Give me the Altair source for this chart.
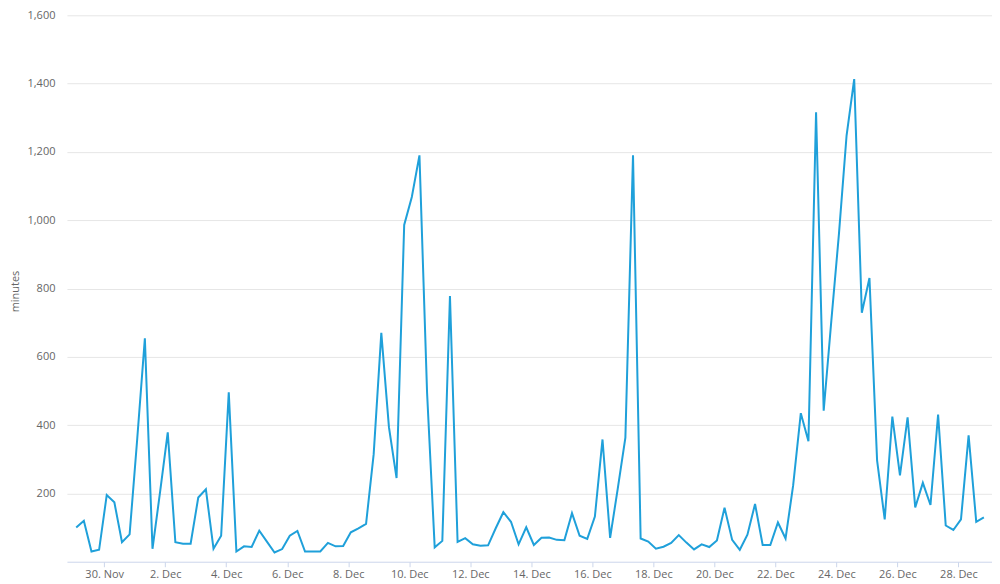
import altair as alt
import pandas as pd

start_time = "2013-11-29 02:00"
step = "6h"

minutes = [
    100, 120, 30, 35, 195, 174, 57, 80, 360, 654,
    38, 205, 379, 57, 53, 53, 188, 212, 38, 76,
    496, 30, 45, 43, 91, 59, 27, 37, 76, 90,
    30, 30, 30, 55, 45, 46, 86, 98, 111, 315,
    670, 394, 245, 986, 1068, 1190, 495, 42, 61, 778,
    58, 69, 51, 47, 48, 98, 145, 117, 51, 101,
    49, 70, 71, 64, 63, 142, 76, 67, 132, 358,
    70, 214, 363, 1190, 68, 59, 38, 44, 55, 78,
    56, 36, 51, 43, 62, 158, 64, 35, 79, 169,
    49, 49, 115, 68, 224, 435, 353, 1316, 442, 705,
    960, 1248, 1413, 729, 831, 297, 124, 425, 253, 423,
    159, 231, 166, 431, 106, 93, 124, 370, 117, 130,
]

tick_days = [(2013, 11, 30)] + [(2013, 12, d) for d in range(2, 29, 2)]
y_ticks = [200, 400, 600, 800, 1000, 1200, 1400, 1600]

times = pd.date_range(start_time, periods=len(minutes), freq=step)
df = pd.DataFrame({"time": times.strftime("%Y-%m-%dT%H:%M:%S"), "minutes": minutes})

tick_values = [alt.DateTime(year=y, month=m, date=d) for (y, m, d) in tick_days]

FONT = "Open Sans"
LABEL = "#666666"

chart = alt.Chart(df).mark_line(color="#1fa0da", strokeWidth=2, interpolate="linear").encode(
    x=alt.X(
        "time:T",
        title=None,
        scale=alt.Scale(domain=[
            alt.DateTime(year=2013, month=11, date=28, hours=18, minutes=42),
            alt.DateTime(year=2013, month=12, date=29, hours=2, minutes=24),
        ]),
        axis=alt.Axis(
            values=tick_values,
            format="%-d. %b",
            grid=False,
            domainColor="#ccd6eb",
            tickColor="#ccd6eb",
            tickSize=5,
            labelPadding=2,
            labelFont=FONT,
            labelFontSize=11,
            labelColor=LABEL,
        ),
    ),
    y=alt.Y(
        "minutes:Q",
        title="minutes",
        scale=alt.Scale(domain=[0, 1600], nice=False, zero=True),
        axis=alt.Axis(
            values=y_ticks,
            format=",d",
            ticks=False,
            domain=False,
            gridColor="#e6e6e6",
            gridWidth=1,
            labelPadding=12,
            labelFont=FONT,
            labelFontSize=11,
            labelColor=LABEL,
            titleFont=FONT,
            titleFontSize=11,
            titleFontWeight="normal",
            titleColor=LABEL,
            titleX=-51,
            titleY=276,
            titleAlign="center",
            titleBaseline="middle",
        ),
    ),
).properties(
    width=926,
    height=547,
    autosize=alt.AutoSizeParams(type="none"),
    padding={"left": 59, "top": 7, "right": 0, "bottom": 21},
).configure_view(stroke=None)

chart.save("out.html", embed_options={"renderer": "svg", "actions": False})
